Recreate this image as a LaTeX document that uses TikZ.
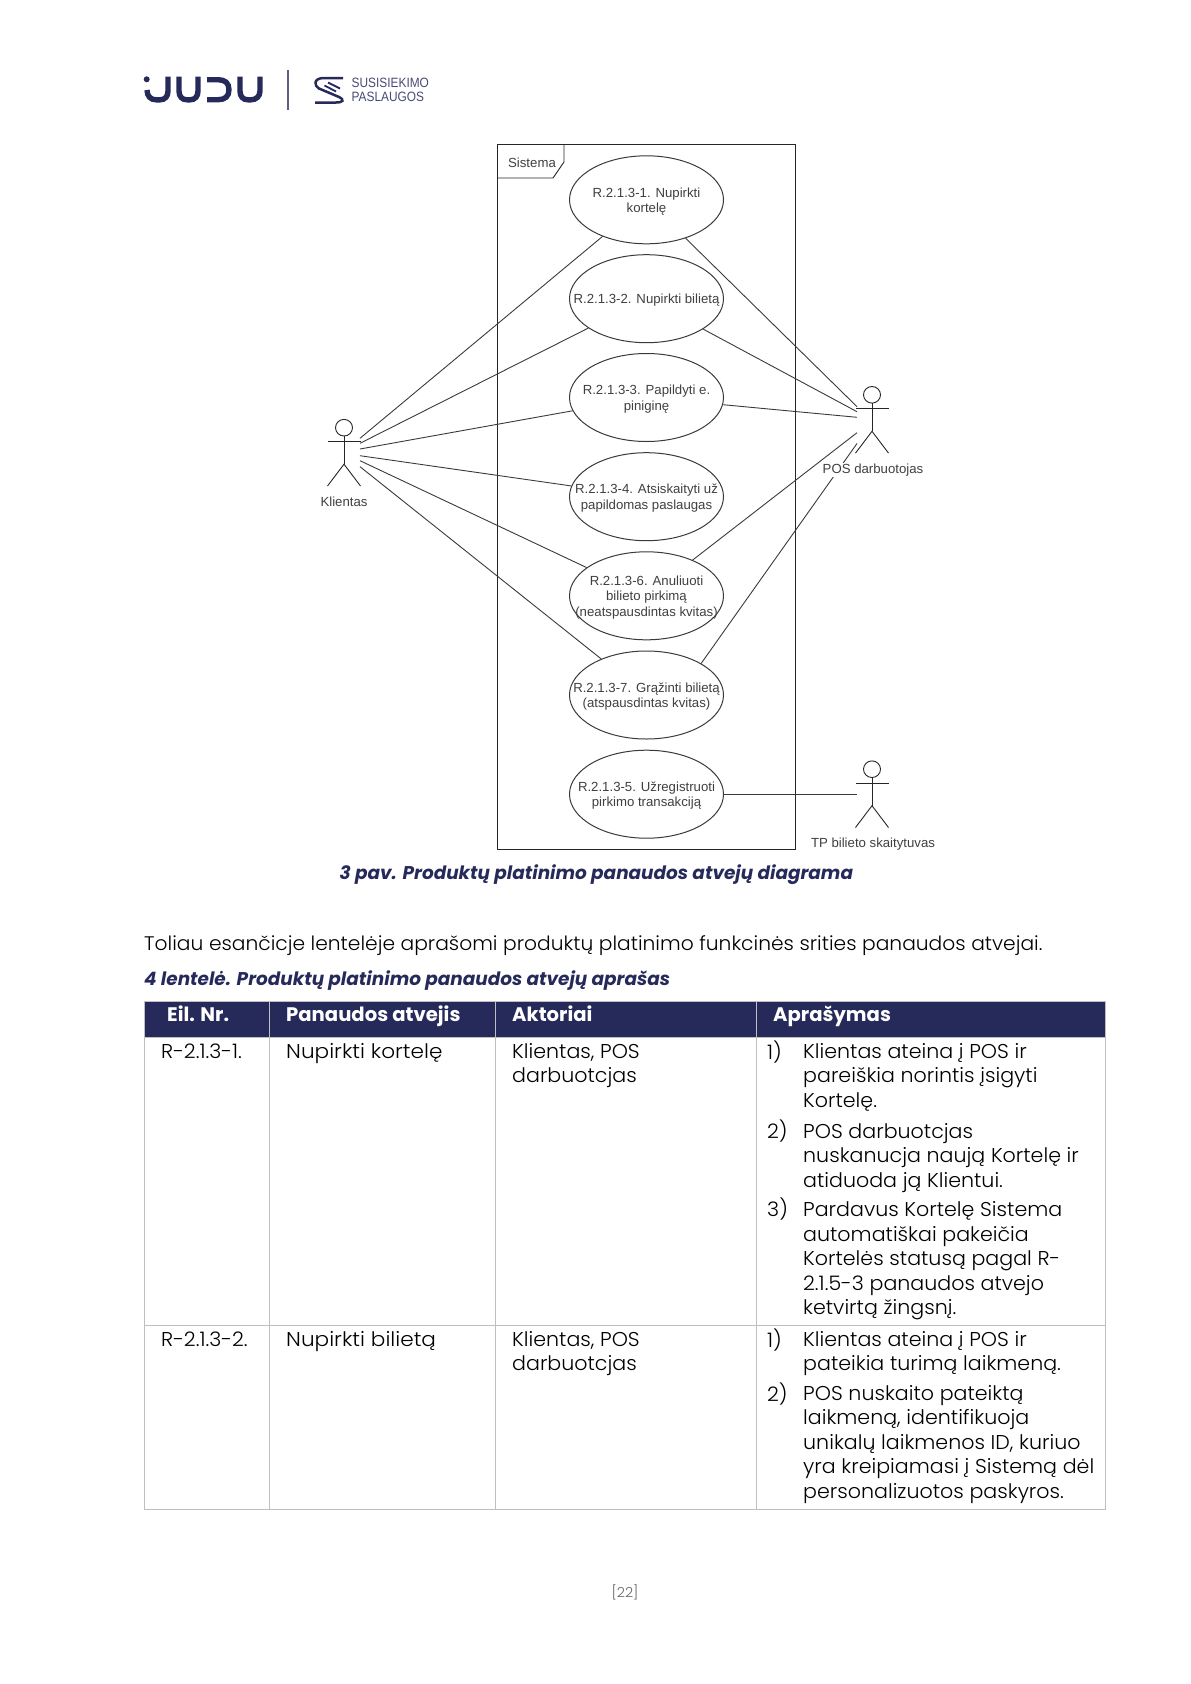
\documentclass[tikz,border=0pt]{standalone}
\usepackage{fontspec}
\usetikzlibrary{shapes.geometric}
\setmainfont{Poppins}
\newfontfamily\diagfont{Liberation Sans}
\newfontfamily\logofont[FakeStretch=.88]{Liberation Sans}
\newfontfamily\bodyfont[FakeStretch=1.03]{Poppins Light}
\newfontfamily\bodywide[FakeStretch=1.08]{Poppins Light}
\newfontfamily\headfont{Poppins Bold}
\newfontfamily\capfont{Poppins Bold Italic}
\definecolor{navy}{HTML}{262A5B}
\definecolor{rulegrey}{HTML}{BFBFBF}
\definecolor{diagline}{HTML}{3A3A3A}
\tikzset{
  uc/.style={draw=diagline,line width=1pt,ellipse,minimum width=154pt,minimum height=88pt,inner sep=0pt,fill=white},
  uctext/.style={align=center,inner sep=0pt,font=\diagfont\fontsize{13.2}{15.4}\selectfont,text=black!75},
  link/.style={draw=diagline,line width=.9pt},
  stick/.style={draw=black!85,line width=.9pt},
  lbl/.style={font=\diagfont\fontsize{13.2}{15}\selectfont,text=black!75,inner sep=1pt},
  body/.style={font=\bodyfont\fontsize{20}{24.6}\selectfont,text=black,inner sep=0pt,anchor=north west,align=left,yshift=17.22pt,execute at begin node={\strut}},
  wide/.style={font=\bodywide\fontsize{20}{24.6}\selectfont},
  introtext/.style={font=\bodyfont\fontsize{19.65}{24.6}\selectfont},
  head/.style={font=\headfont\fontsize{19.6}{24}\selectfont,text=white,inner sep=0pt,anchor=base west},
  capt/.style={font=\capfont\fontsize{18.45}{24}\selectfont,text=navy,inner sep=0pt,anchor=base west},
  cellrule/.style={draw=rulegrey,line width=1pt},
  logotext/.style={inner sep=0pt,anchor=west,text=navy!85,font=\logofont\fontsize{13.5}{13.5}\selectfont},
}
\newcommand{\usecase}[3]{%
  \node[uc] (#1) at (646.5,#2) {};
  \node[uctext] (#1t) at (646.5,#2+1.5) {#3};
}
\newcommand{\actor}[2]{% x, head-centre y
  \draw[stick] (#1,#2) circle[x radius=8.5pt,y radius=8.3pt];
  \draw[stick] (#1,#2+8.3) -- (#1,#2+36.5) (#1-16.5,#2+14) -- (#1+16.5,#2+14);
  \draw[stick] (#1-16.5,#2+58.3) -- (#1,#2+36.5) -- (#1+16.5,#2+58.3);
}
\begin{document}
\begin{tikzpicture}[x=1pt,y=-1pt]
\useasboundingbox (0,0) rectangle (1191,1684);
% logo
\begin{scope}[navy,line width=5.4pt]
\fill[navy] (146.7,79.3) circle (3pt);
\draw (147,90) .. controls (147,96.5) and (151,99.8) .. (156,99.8) -- (160,99.8) .. controls (165,99.8) and (168,96.5) .. (168,91) -- (168,76.5);
\draw (179,76.5) -- (179,91) .. controls (179,96.5) and (182,99.8) .. (187,99.8) -- (190,99.8) .. controls (195,99.8) and (198,96.5) .. (198,91) -- (198,76.5);
\draw (207,79.7) -- (218,79.7) .. controls (225,79.7) and (229,83) .. (229,89.7) .. controls (229,96.5) and (225,99.7) .. (218,99.7) -- (207,99.7);
\draw (240,76.5) -- (240,91) .. controls (240,96.5) and (243,99.8) .. (248,99.8) -- (251,99.8) .. controls (256,99.8) and (260,96.5) .. (260,91) -- (260,76.5);
\end{scope}
\draw[navy!75,line width=2.6pt] (288,70) -- (288,109.5);
\begin{scope}[navy,line width=2.5pt]
\draw (343,78) -- (324,78) .. controls (313,78) and (314,86) .. (319,88.5) -- (339,97) .. controls (345,100) and (343,102.5) .. (336,102.5) -- (315,102.5);
\draw[line width=1.8pt] (328,82.5) -- (340,88.5);
\draw[line width=1.8pt] (324.5,85.5) -- (336,91.5);
\end{scope}
\node[logotext] (lg1) at (351.5,83) {SUSISIEKIMO};
\node[logotext] (lg2) at (351.5,96.5) {PASLAUGOS};
% system frame
\draw[line width=1pt,draw=black!85] (497.5,144.5) rectangle (795.5,849.5);
\draw[line width=.9pt,draw=black!85] (497.5,178) -- (553,178) -- (564,162) -- (564,144.5);
\node[lbl] (sys) at (532,162.5) {Sistema};
% connector end points at the actors
\coordinate (ka) at (360,438.3);
\coordinate (kb) at (360,443.3);
\coordinate (kc) at (360,449);
\coordinate (kd) at (360,455.7);
\coordinate (ke) at (360,460.7);
\coordinate (kf) at (360,466.7);
\coordinate (pa) at (857,406.7);
\coordinate (pb) at (857,411.7);
\coordinate (pc) at (857,417.3);
\coordinate (pd) at (857,432.7);
\coordinate (pe) at (857,443.5);
\coordinate (ta) at (857,794.2);
% use cases
\usecase{e1}{199.8}{R.2.1.3-1. Nupirkti\\kortelę}
\usecase{e2}{298.7}{R.2.1.3-2. Nupirkti bilietą}
\usecase{e3}{397.5}{R.2.1.3-3. Papildyti e.\\piniginę}
\usecase{e4}{496.7}{R.2.1.3-4. Atsiskaityti už\\papildomas paslaugas}
\usecase{e6}{595.8}{R.2.1.3-6. Anuliuoti\\bilieto pirkimą\\(neatspausdintas kvitas)}
\usecase{e7}{695}{R.2.1.3-7. Grąžinti bilietą\\(atspausdintas kvitas)}
\usecase{e5}{794.2}{R.2.1.3-5. Užregistruoti\\pirkimo transakciją}
\foreach \a/\b in {ka/e1,kb/e2,kc/e3,kd/e4,ke/e6,kf/e7,pa/e1,pb/e2,pc/e3,pd/e6,pe/e7.30,ta/e5}
  \draw[link] (\a) -- (\b);
% actors
\actor{344}{427.7}
\actor{872}{394.8}
\actor{872}{769.2}
\node[lbl] (kl) at (344,502) {Klientas};
\node[lbl,fill=white] (pl) at (873,469.7) {POS darbuotojas};
\node[lbl] (tl) at (873,844) {TP bilieto skaitytuvas};
% captions
\node[capt] (c3) at (339.5,879) {3 pav. Produktų platinimo panaudos atvejų diagrama};
\node[body,introtext] (intro) at (144,950) {Toliau esančicje lentelėje aprašomi produktų platinimo funkcinės srities panaudos atvejai.};
\node[capt] (c4) at (144,985) {4 lentelė. Produktų platinimo panaudos atvejų aprašas};
% table
\fill[navy] (144,1001) rectangle (1105.5,1037.5);
\foreach \x in {144,269,495,756,1105.5} \draw[cellrule] (\x,1001) -- (\x,1509.5);
\draw[cellrule] (144,1001) -- (1105.5,1001) (144,1037.5) -- (1105.5,1037.5) (144,1325) -- (1105.5,1325) (144,1509.5) -- (1105.5,1509.5);
\node[head] (h1) at (167,1021) {Eil. Nr.};
\node[head] (h2) at (286,1021) {Panaudos atvejis};
\node[head] (h3) at (512,1021) {Aktoriai};
\node[head] (h4) at (773,1021) {Aprašymas};
\node[body] (r1a) at (161,1058) {R-2.1.3-1.};
\node[body,wide] (r1b) at (286,1058) {Nupirkti kortelę};
\node[body] (r1c) at (512,1060) {Klientas, POS\\darbuotcjas};
\node[body] (n1) at (767,1058) {1)};
\node[body] (d1) at (803,1060) {Klientas ateina į POS ir\\pareiškia norintis įsigyti\\Kortelę.};
\node[body] (n2) at (767,1137) {2)};
\node[body] (d2) at (803,1140) {POS darbuotcjas\\nuskanucja naują Kortelę ir\\atiduoda ją Klientui.};
\node[body] (n3) at (767,1214.5) {3)};
\node[body] (d3) at (803,1218.5) {Pardavus Kortelę Sistema\\automatiškai pakeičia\\Kortelės statusą pagal R-\\2.1.5-3 panaudos atvejo\\ketvirtą žingsnį.};
\node[body] (r2a) at (161,1346) {R-2.1.3-2.};
\node[body,wide] (r2b) at (286,1346) {Nupirkti bilietą};
\node[body] (r2c) at (512,1348) {Klientas, POS\\darbuotcjas};
\node[body] (m1) at (767,1346) {1)};
\node[body] (f1) at (803,1348) {Klientas ateina į POS ir\\pateikia turimą laikmeną.};
\node[body] (m2) at (767,1400) {2)};
\node[body] (f2) at (803,1402) {POS nuskaito pateiktą\\laikmeną, identifikuoja\\unikalų laikmenos ID, kuriuo\\yra kreipiamasi į Sistemą dėl\\personalizuotos paskyros.};
\node[font=\bodyfont\fontsize{13.8}{18}\selectfont,text=black!60,inner sep=0pt] (pg) at (625,1592) {[22]};
\end{tikzpicture}
\end{document}
